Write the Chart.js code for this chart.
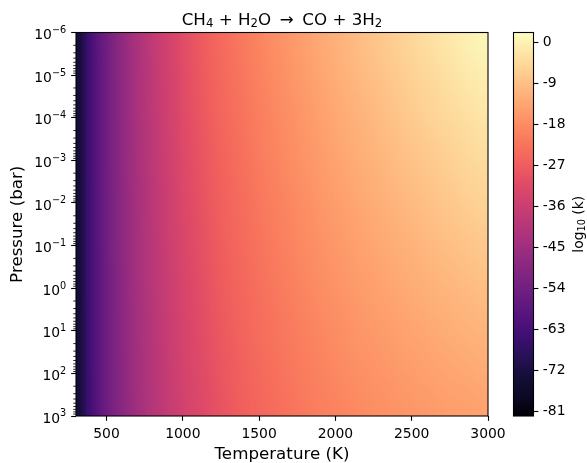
<!DOCTYPE html>
<html lang="en">
<head>
<meta charset="UTF-8">
<title>CH4 + H2O -> CO + 3H2</title>
<script src="https://cdn.jsdelivr.net/npm/chart.js@4.4.0/dist/chart.umd.min.js"></script>
<style>
  body { margin: 0; background: #fff; }
  .wrap { position: relative; width: 587px; height: 463px; }
  .wrap canvas { position: absolute; left: 0; top: 0; }
</style>
</head>
<body>
<div class="wrap">
  <canvas id="mapChart" width="587" height="463"></canvas>
  <canvas id="barChart" width="587" height="463"></canvas>
</div>
<script>
// cell edges: temperature (K) and pressure (bar)
const tempEdges = [300, 350, 400, 450, 500, 550, 600, 650, 700, 750, 800, 850, 900, 950, 1000,
  1100, 1200, 1300, 1400, 1500, 1600, 1700, 1800, 1900, 2000,
  2100, 2200, 2300, 2400, 2500, 2600, 2700, 2800, 2900, 3000];
const pressureEdges = [1e-6, 3.162e-6, 1e-5, 3.162e-5, 1e-4, 3.162e-4, 1e-3, 3.162e-3, 1e-2, 3.162e-2,
  0.1, 0.3162, 1, 3.162, 10, 31.62, 100, 316.2, 1000];

// log10(k): one list per temperature cell, from low pressure (top) to high pressure (bottom)
const logK = [
  [-73.0,-73.0,-73.0,-73.0,-73.0,-73.0,-73.0,-73.0,-73.0,-73.0,-73.0,-73.0,-73.0,-73.0,-73.0,-73.0,-73.0,-73.0],
  [-65.3,-65.3,-65.3,-65.3,-65.4,-65.4,-65.4,-65.4,-65.4,-65.4,-65.4,-65.4,-65.4,-65.5,-65.5,-65.5,-65.5,-65.5],
  [-60.1,-60.1,-60.2,-60.2,-60.2,-60.2,-60.2,-60.3,-60.3,-60.3,-60.3,-60.4,-60.4,-60.4,-60.4,-60.4,-60.5,-60.5],
  [-55.9,-56.0,-56.0,-56.0,-56.1,-56.1,-56.1,-56.2,-56.2,-56.2,-56.3,-56.3,-56.3,-56.4,-56.4,-56.4,-56.5,-56.5],
  [-52.3,-52.4,-52.4,-52.5,-52.5,-52.6,-52.6,-52.7,-52.7,-52.8,-52.8,-52.9,-52.9,-53.0,-53.0,-53.1,-53.1,-53.2],
  [-49.1,-49.2,-49.3,-49.3,-49.4,-49.5,-49.5,-49.6,-49.7,-49.7,-49.8,-49.9,-49.9,-50.0,-50.1,-50.1,-50.2,-50.3],
  [-46.3,-46.4,-46.5,-46.6,-46.7,-46.8,-46.8,-46.9,-47.0,-47.1,-47.2,-47.3,-47.3,-47.4,-47.5,-47.6,-47.7,-47.8],
  [-43.8,-43.9,-44.0,-44.1,-44.2,-44.3,-44.4,-44.5,-44.6,-44.7,-44.8,-44.9,-45.0,-45.1,-45.2,-45.3,-45.4,-45.5],
  [-41.4,-41.5,-41.6,-41.7,-41.8,-41.9,-42.1,-42.2,-42.3,-42.4,-42.5,-42.6,-42.8,-42.9,-43.0,-43.1,-43.2,-43.3],
  [-39.2,-39.3,-39.4,-39.6,-39.7,-39.8,-40.0,-40.1,-40.2,-40.4,-40.5,-40.6,-40.8,-40.9,-41.0,-41.2,-41.3,-41.4],
  [-37.2,-37.3,-37.5,-37.6,-37.8,-37.9,-38.1,-38.2,-38.4,-38.5,-38.7,-38.8,-39.0,-39.1,-39.3,-39.4,-39.6,-39.7],
  [-35.3,-35.5,-35.6,-35.8,-36.0,-36.1,-36.3,-36.5,-36.6,-36.8,-37.0,-37.1,-37.3,-37.5,-37.6,-37.8,-38.0,-38.1],
  [-33.5,-33.7,-33.9,-34.0,-34.2,-34.4,-34.6,-34.8,-35.0,-35.1,-35.3,-35.5,-35.7,-35.9,-36.1,-36.2,-36.4,-36.6],
  [-31.8,-32.0,-32.2,-32.4,-32.6,-32.8,-33.0,-33.2,-33.4,-33.6,-33.8,-34.0,-34.2,-34.4,-34.6,-34.8,-35.0,-35.2],
  [-29.5,-29.7,-29.9,-30.1,-30.4,-30.6,-30.8,-31.0,-31.3,-31.5,-31.7,-31.9,-32.2,-32.4,-32.6,-32.8,-33.1,-33.3],
  [-26.7,-26.9,-27.2,-27.4,-27.7,-28.0,-28.2,-28.5,-28.7,-29.0,-29.2,-29.5,-29.7,-30.0,-30.3,-30.5,-30.8,-31.0],
  [-24.3,-24.6,-24.8,-25.1,-25.4,-25.7,-26.0,-26.2,-26.5,-26.8,-27.1,-27.3,-27.6,-27.9,-28.2,-28.5,-28.7,-29.0],
  [-22.2,-22.5,-22.8,-23.1,-23.4,-23.7,-24.0,-24.3,-24.6,-24.9,-25.2,-25.5,-25.8,-26.1,-26.4,-26.7,-27.0,-27.3],
  [-20.2,-20.5,-20.9,-21.2,-21.5,-21.8,-22.1,-22.5,-22.8,-23.1,-23.4,-23.8,-24.1,-24.4,-24.7,-25.0,-25.4,-25.7],
  [-18.4,-18.8,-19.1,-19.5,-19.8,-20.1,-20.5,-20.8,-21.2,-21.5,-21.9,-22.2,-22.6,-22.9,-23.2,-23.6,-23.9,-24.3],
  [-16.8,-17.2,-17.5,-17.9,-18.3,-18.6,-19.0,-19.4,-19.7,-20.1,-20.5,-20.8,-21.2,-21.6,-21.9,-22.3,-22.7,-23.0],
  [-15.2,-15.6,-16.0,-16.4,-16.8,-17.2,-17.6,-18.0,-18.4,-18.7,-19.1,-19.5,-19.9,-20.3,-20.7,-21.1,-21.5,-21.9],
  [-13.7,-14.1,-14.5,-15.0,-15.4,-15.8,-16.2,-16.6,-17.1,-17.5,-17.9,-18.3,-18.7,-19.2,-19.6,-20.0,-20.4,-20.8],
  [-12.2,-12.6,-13.1,-13.5,-14.0,-14.4,-14.9,-15.3,-15.8,-16.3,-16.7,-17.2,-17.6,-18.1,-18.5,-19.0,-19.4,-19.9],
  [-10.8,-11.3,-11.8,-12.3,-12.7,-13.2,-13.7,-14.2,-14.7,-15.2,-15.7,-16.1,-16.6,-17.1,-17.6,-18.1,-18.6,-19.1],
  [-9.4,-9.9,-10.4,-11.0,-11.5,-12.0,-12.5,-13.0,-13.6,-14.1,-14.6,-15.1,-15.6,-16.2,-16.7,-17.2,-17.7,-18.2],
  [-8.2,-8.7,-9.3,-9.8,-10.4,-10.9,-11.5,-12.0,-12.6,-13.2,-13.7,-14.3,-14.8,-15.4,-15.9,-16.5,-17.0,-17.6],
  [-6.8,-7.4,-8.0,-8.6,-9.2,-9.8,-10.4,-11.0,-11.6,-12.2,-12.8,-13.4,-14.0,-14.6,-15.2,-15.8,-16.4,-17.0],
  [-5.5,-6.1,-6.7,-7.4,-8.0,-8.7,-9.3,-9.9,-10.6,-11.2,-11.9,-12.5,-13.1,-13.8,-14.4,-15.1,-15.7,-16.3],
  [-4.2,-4.9,-5.6,-6.2,-6.9,-7.6,-8.3,-9.0,-9.7,-10.3,-11.0,-11.7,-12.4,-13.1,-13.8,-14.4,-15.1,-15.8],
  [-2.9,-3.6,-4.4,-5.1,-5.8,-6.6,-7.3,-8.0,-8.7,-9.5,-10.2,-10.9,-11.6,-12.4,-13.1,-13.8,-14.6,-15.3],
  [-1.7,-2.5,-3.2,-4.0,-4.8,-5.5,-6.3,-7.1,-7.9,-8.6,-9.4,-10.2,-11.0,-11.7,-12.5,-13.3,-14.0,-14.8],
  [-0.5,-1.3,-2.1,-3.0,-3.8,-4.6,-5.4,-6.2,-7.0,-7.9,-8.7,-9.5,-10.3,-11.1,-11.9,-12.8,-13.6,-14.4],
  [0.7,-0.2,-1.1,-1.9,-2.8,-3.6,-4.5,-5.4,-6.2,-7.1,-7.9,-8.8,-9.7,-10.5,-11.4,-12.2,-13.1,-14.0]
];

const tempTicks = [500, 1000, 1500, 2000, 2500, 3000];
const pressureTicks = [1e-6, 1e-5, 1e-4, 1e-3, 1e-2, 1e-1, 1, 10, 100, 1000];
const pressureExps = ['−6', '−5', '−4', '−3', '−2', '−1', '0', '1', '2', '3'];
const cbarTicks = [-81, -72, -63, -54, -45, -36, -27, -18, -9, 0];
const vmin = -82, vmax = 2.1;

// magma colour map, 21 stops
const magma = ['#000004', '#0c0924', '#140e36', '#251153', '#3b0f70', '#51127c', '#641a80', '#782281',
  '#8c2981', '#a3307e', '#b73779', '#cc3f71', '#de4968', '#ef5c5e', '#f7705c', '#fc8761', '#fe9f6d',
  '#feb77e', '#fecf92', '#fde6a8', '#fcfdbf'];
const stops = magma.map(h => [1, 3, 5].map(i => parseInt(h.slice(i, i + 2), 16)));

function colour(v) {
  let t = Math.min(1, Math.max(0, (v - vmin) / (vmax - vmin))) * (stops.length - 1);
  const i = Math.min(stops.length - 2, Math.floor(t));
  const f = t - i, a = stops[i], b = stops[i + 1];
  return 'rgb(' + a.map((c, k) => Math.round(c + (b[k] - c) * f)).join(',') + ')';
}

// text with sub/superscripts, parts = [[text, -1 sub | 0 | 1 sup], ...]
function drawParts(ctx, parts, x, y, size, align) {
  const fontOf = s => (s ? size * 0.7 : size) + 'px "DejaVu Sans"';
  let w = 0;
  parts.forEach(([t, s]) => { ctx.font = fontOf(s); w += ctx.measureText(t).width; });
  let cx = align === 'right' ? x - w : align === 'center' ? x - w / 2 : x;
  ctx.textAlign = 'left';
  ctx.textBaseline = 'alphabetic';
  parts.forEach(([t, s]) => {
    ctx.font = fontOf(s);
    const dy = s < 0 ? size * 0.15 : s > 0 ? -size * 0.45 : 0;
    ctx.fillText(t, cx, y + dy);
    cx += ctx.measureText(t).width;
  });
}

Chart.defaults.font.family = '"DejaVu Sans", sans-serif';
Chart.defaults.color = '#000';

const FONT = 13.9, BIG = 16.7, TICK = 4.86;

// split the columns into runs of equal width; each run becomes a small image,
// one pixel per cell plus its neighbour on each side, stretched over its part of the plot
const runs = [];
logK.forEach((col, c) => {
  const w = tempEdges[c + 1] - tempEdges[c];
  const last = runs[runs.length - 1];
  if (last && last.w === w) last.last = c;
  else runs.push({ w, first: c, last: c });
});
runs.forEach(run => {
  const cols = [];
  for (let c = run.first - 1; c <= run.last + 1; c++) {
    cols.push(logK[Math.min(logK.length - 1, Math.max(0, c))]);
  }
  const img = document.createElement('canvas');
  img.width = cols.length;
  img.height = pressureEdges.length - 1;
  const g = img.getContext('2d');
  cols.forEach((col, i) => col.forEach((v, r) => {
    g.fillStyle = colour(v);
    g.fillRect(i, r, 1, 1);
  }));
  run.img = img;
  run.start = tempEdges[run.first];
  run.end = tempEdges[run.last + 1];
});

const heatmap = {
  id: 'heatmap',
  beforeDatasetsDraw(chart) {
    const { ctx, scales: { x, y } } = chart;
    const y0 = y.getPixelForValue(pressureEdges[0]);
    const y1 = y.getPixelForValue(pressureEdges[pressureEdges.length - 1]);
    ctx.save();
    ctx.imageSmoothingEnabled = true;
    runs.forEach(run => {
      const x0 = Math.round(x.getPixelForValue(run.start));
      const x1 = Math.round(x.getPixelForValue(run.end));
      const e0 = x.getPixelForValue(run.start - run.w);
      const e1 = x.getPixelForValue(run.end + run.w);
      ctx.save();
      ctx.beginPath();
      ctx.rect(x0, y0, x1 - x0, y1 - y0);
      ctx.clip();
      ctx.drawImage(run.img, e0, y0, e1 - e0, y1 - y0);
      ctx.restore();
    });
    ctx.restore();
  },
  afterDraw(chart) {
    const { ctx, chartArea: a, scales: { y } } = chart;
    ctx.save();
    ctx.strokeStyle = '#000';
    ctx.fillStyle = '#000';
    // minor ticks on the pressure axis
    ctx.lineWidth = 0.83;
    ctx.beginPath();
    for (let e = -6; e < 3; e++) {
      for (let k = 2; k <= 9; k++) {
        const py = y.getPixelForValue(k * Math.pow(10, e));
        ctx.moveTo(a.left - 2.8, py);
        ctx.lineTo(a.left, py);
      }
    }
    ctx.stroke();
    ctx.lineWidth = 1.1;
    ctx.strokeRect(a.left, a.top, a.right - a.left, a.bottom - a.top);
    // pressure tick labels 10^n
    pressureTicks.forEach((p, i) => {
      drawParts(ctx, [['10', 0], [pressureExps[i], 1]], a.left - 2 * TICK, y.getPixelForValue(p) + 6.7, FONT, 'right');
    });
    // title
    drawParts(ctx, [['CH', 0], ['4', -1], [' + H', 0], ['2', -1], ['O \u2009→\u2009 CO + 3H', 0], ['2', -1]],
      (a.left + a.right) / 2, 24.5, BIG, 'center');
    ctx.restore();
  }
};

const colourbar = {
  id: 'colourbar',
  beforeDatasetsDraw(chart) {
    const { ctx, chartArea: a, scales: { y } } = chart;
    ctx.save();
    for (let py = Math.floor(a.top); py < a.bottom; py++) {
      ctx.fillStyle = colour(y.getValueForPixel(py + 0.5));
      ctx.fillRect(a.left, py, a.right - a.left, 1);
    }
    ctx.restore();
  },
  afterDraw(chart) {
    const { ctx, chartArea: a } = chart;
    ctx.save();
    ctx.strokeStyle = '#000';
    ctx.fillStyle = '#000';
    ctx.lineWidth = 1.1;
    ctx.strokeRect(a.left, a.top, a.right - a.left, a.bottom - a.top);
    ctx.translate(578, (a.top + a.bottom) / 2);
    ctx.rotate(-Math.PI / 2);
    drawParts(ctx, [['log', 0], ['10', -1], [' (k)', 0]], 0, 5, FONT, 'center');
    ctx.restore();
  }
};

new Chart(document.getElementById('mapChart'), {
  type: 'scatter',
  data: { datasets: [] },
  options: {
    responsive: false,
    animation: false,
    layout: { padding: { left: 0, right: 99, top: 32.5, bottom: 0 } },
    plugins: {
      legend: { display: false },
      tooltip: { enabled: false },
      title: { display: false }
    },
    scales: {
      x: {
        type: 'linear',
        min: 300,
        max: 3000,
        afterBuildTicks: s => { s.ticks = tempTicks.map(v => ({ value: v })); },
        afterFit: s => { s.height = 47; },
        border: { display: false },
        grid: { drawOnChartArea: false, tickLength: TICK, tickWidth: 1.1, tickColor: '#000' },
        ticks: { autoSkip: false, maxRotation: 0, padding: 5, font: { size: FONT }, callback: v => String(v) },
        title: { display: true, text: 'Temperature (K)', font: { size: BIG }, padding: { top: 0, bottom: -1.5 } }
      },
      y: {
        type: 'logarithmic',
        reverse: true,
        min: 1e-6,
        max: 1e3,
        afterBuildTicks: s => { s.ticks = pressureTicks.map(v => ({ value: v })); },
        afterFit: s => { s.width = 76; },
        border: { display: false },
        grid: { drawOnChartArea: false, tickLength: TICK, tickWidth: 1.1, tickColor: '#000' },
        ticks: { display: false },
        title: { display: true, text: 'Pressure (bar)', font: { size: BIG }, padding: { top: 8, bottom: 0 } }
      }
    }
  },
  plugins: [heatmap]
});

new Chart(document.getElementById('barChart'), {
  type: 'bar',
  data: { labels: [''], datasets: [] },
  options: {
    responsive: false,
    animation: false,
    layout: { padding: { left: 513.5, right: 0, top: 32.5, bottom: 47 } },
    plugins: { legend: { display: false }, tooltip: { enabled: false } },
    scales: {
      x: { display: false },
      y: {
        type: 'linear',
        position: 'right',
        min: vmin,
        max: vmax,
        afterBuildTicks: s => { s.ticks = cbarTicks.map(v => ({ value: v })); },
        afterFit: s => { s.width = 53.5; },
        border: { display: false },
        grid: { drawOnChartArea: false, tickLength: TICK, tickWidth: 1.1, tickColor: '#000' },
        ticks: { autoSkip: false, padding: 4.5, font: { size: FONT }, callback: v => String(v) }
      }
    }
  },
  plugins: [colourbar]
});
</script>
</body>
</html>
